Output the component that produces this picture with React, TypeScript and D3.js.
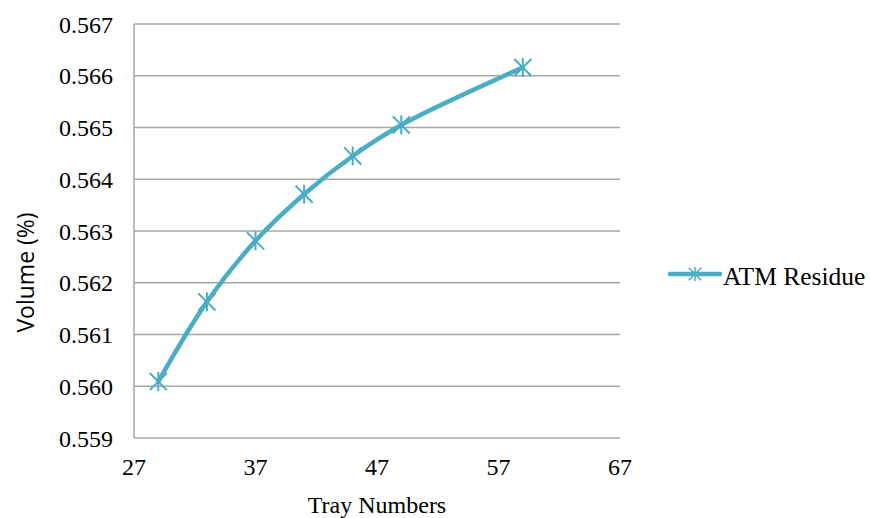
import React from "react";
import * as d3 from "d3";

const trays = [29, 33, 37, 41, 45, 49, 59];
const volumes = [0.56009, 0.56163, 0.56281, 0.56371, 0.56445, 0.56505, 0.56616];
const xTicks = [27, 37, 47, 57, 67];
const yTicks = [0.559, 0.56, 0.561, 0.562, 0.563, 0.564, 0.565, 0.566, 0.567];
const seriesName = "ATM Residue";

const W = 870;
const H = 518;
const left = 134;
const right = 620;
const top = 24;
const bottom = 438;
const color = "#4BACC6";
const serif = "'Liberation Serif', 'Times New Roman', serif";

function Asterisk({ x, y, r, sw }: { x: number; y: number; r: number; sw: number }) {
  const d = r * 0.9;
  return (
    <g transform={`translate(${x},${y})`} stroke={color} strokeWidth={sw}>
      <line x1={-d} y1={-d} x2={d} y2={d} />
      <line x1={-d} y1={d} x2={d} y2={-d} />
      <line x1={0} y1={-r} x2={0} y2={r} />
    </g>
  );
}

export default function App() {
  const x = d3.scaleLinear().domain([27, 67]).range([left, right]);
  const y = d3.scaleLinear().domain([0.559, 0.567]).range([bottom, top]);
  const pts: [number, number][] = trays.map((t, i) => [x(t), y(volumes[i])]);
  const line = d3.line().curve(d3.curveCatmullRom.alpha(0.5))(pts) || "";

  return (
    <svg width={W} height={H} style={{ position: "absolute", left: 0, top: 0, background: "#fff" }}>
      {yTicks.map((t) => (
        <g key={t}>
          <line x1={left} x2={right} y1={y(t)} y2={y(t)} stroke="#a6a6a6" strokeWidth={1.5} />
          <text x={113} y={y(t)} dy="0.36em" textAnchor="end" fontFamily={serif} fontSize={24} fill="#000">
            {d3.format(".3f")(t)}
          </text>
        </g>
      ))}
      <line x1={left} x2={left} y1={top} y2={bottom} stroke="#a6a6a6" strokeWidth={1.5} />
      {xTicks.map((t) => (
        <text key={t} x={x(t)} y={475} textAnchor="middle" fontFamily={serif} fontSize={24} fill="#000">
          {t}
        </text>
      ))}
      <text x={(left + right) / 2} y={513} textAnchor="middle" fontFamily={serif} fontSize={24} fill="#000">
        Tray Numbers
      </text>
      <text
        transform={`translate(34,${(208 + 337) / 2}) rotate(-90)`}
        textAnchor="middle"
        fontFamily="'Open Sans', 'Liberation Sans', sans-serif"
        fontSize={23}
        fill="#000"
      >
        Volume (%)
      </text>
      <path d={line} fill="none" stroke={color} strokeWidth={4.5} strokeLinecap="round" />
      {pts.map((p, i) => (
        <Asterisk key={i} x={p[0]} y={p[1]} r={9.5} sw={2} />
      ))}
      <line x1={670} x2={720} y1={274} y2={274} stroke={color} strokeWidth={4.5} strokeLinecap="round" />
      <Asterisk x={695} y={274} r={7} sw={1.5} />
      <text x={723} y={285} fontFamily={serif} fontSize={25.5} fill="#000">
        {seriesName}
      </text>
    </svg>
  );
}
